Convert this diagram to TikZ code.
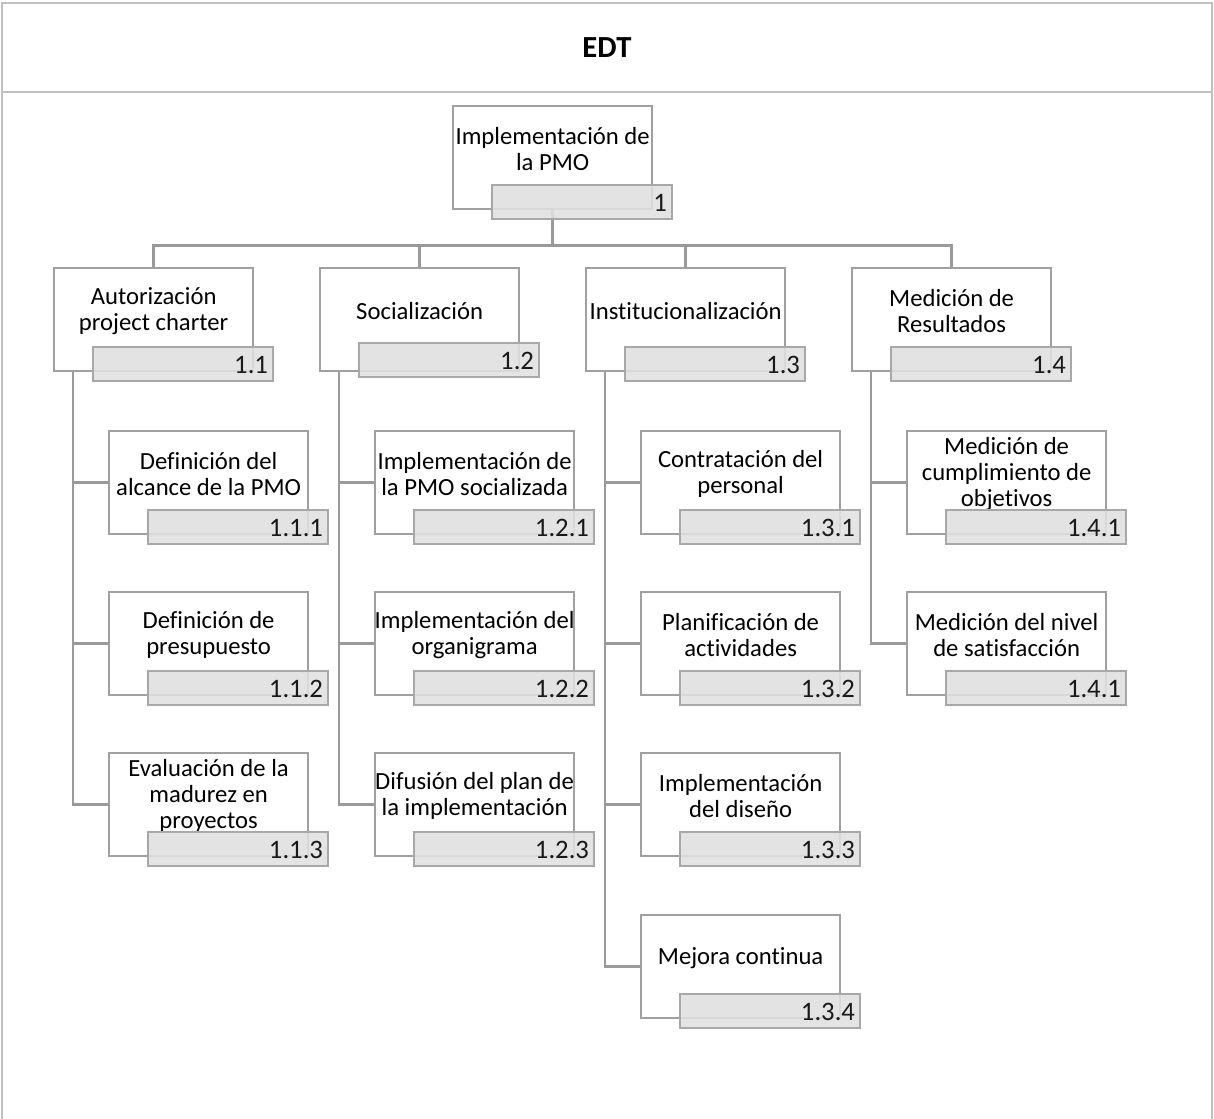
\documentclass[tikz,border=0pt]{standalone}
\usepackage{fontspec}
\setmainfont{Carlito}[Ligatures={NoCommon}]
\usetikzlibrary{calc}
\pgfdeclarelayer{bg}
\pgfsetlayers{bg,main}

\definecolor{framegray}{HTML}{C0C0C0}
\definecolor{boxline}{HTML}{A0A0A0}
\definecolor{linkgray}{HTML}{9A9A9A}
\definecolor{codefill}{HTML}{E0E0E0}
\definecolor{codeline}{HTML}{A8A8A8}

\tikzset{
  mainbox/.style={draw=boxline, line width=1.7pt, fill=white, rectangle,
    anchor=north west, minimum width=149.25pt, minimum height=77.25pt, inner sep=0pt},
  labeltext/.style={font=\fontsize{18.5}{19.5}\selectfont, align=center,
    inner sep=0pt, text=black},
  codebox/.style={draw=codeline, line width=1.7pt, fill=codefill, fill opacity=0.88,
    draw opacity=1, rectangle, anchor=north west, minimum width=135pt,
    minimum height=25.5pt, inner sep=0pt},
  codetext/.style={font=\fontsize{20}{22}\selectfont, anchor=east,
    inner sep=0pt, text=black!90},
  link/.style={draw=linkgray, line width=1.9pt},
  frameline/.style={draw=framegray, line width=1.5pt},
}

% one WBS element: [code offset]{name}{x}{y}{label}{code}
\newcommand{\wbsitem}[6][79]{%
  \node[mainbox] (#2) at (#3,#4) {};
  \node[labeltext] (#2-t) at ($(#2.north)+(0,44)$) {#5};
  \node[codebox] (#2-c) at ($(#2.north west)+(39,#1)$) {};
  \node[codetext] (#2-n) at ($(#2-c.east)+(-6,1)$) {#6};
}

\begin{document}
\begin{tikzpicture}[x=0.75pt,y=-0.75pt]
\useasboundingbox (0,0) rectangle (1214,1119);

% outer frame and title band
\draw[frameline] (2,1119) -- (2,3) -- (1212,3) -- (1212,1119);
\draw[frameline] (2,92) -- (1212,92);
\node[font=\bfseries\fontsize{23}{25}\selectfont] (title) at (607,48) {EDT};

% root
\wbsitem{root}{452}{105}{Implementación de\\la PMO}{1}

% level 1
\wbsitem{c1}{53}{267}{Autorización\\project charter}{1.1}
\wbsitem[75]{c2}{319}{267}{Socialización}{1.2}
\wbsitem{c3}{585}{267}{Institucionalización}{1.3}
\wbsitem{c4}{851}{267}{Medición de\\Resultados}{1.4}

% level 2
\wbsitem{c11}{108}{430}{Definición del\\alcance de la PMO}{1.1.1}
\wbsitem{c12}{108}{591}{Definición de\\presupuesto}{1.1.2}
\wbsitem{c13}{108}{752}{Evaluación de la\\madurez en\\proyectos}{1.1.3}

\wbsitem{c21}{374}{430}{Implementación de\\la PMO socializada}{1.2.1}
\wbsitem{c22}{374}{591}{Implementación del\\organigrama}{1.2.2}
\wbsitem{c23}{374}{752}{Difusión del plan de\\la implementación}{1.2.3}

\wbsitem{c31}{640}{430}{Contratación del\\personal}{1.3.1}
\wbsitem{c32}{640}{591}{Planificación de\\actividades}{1.3.2}
\wbsitem{c33}{640}{752}{Implementación\\del diseño}{1.3.3}
\wbsitem{c34}{640}{914}{Mejora continua}{1.3.4}

\wbsitem{c41}{906}{430}{Medición de\\cumplimiento de\\objetivos}{1.4.1}
\wbsitem{c42}{906}{591}{Medición del nivel\\de satisfacción}{1.4.1}

% connectors
\begin{pgfonlayer}{bg}
  \foreach \k in {c1,c2,c3,c4}
    \draw[link] (root.south) -- ++(0,35) -| (\k.north);
  \foreach \p/\k in {c1/c11,c1/c12,c1/c13,
                     c2/c21,c2/c22,c2/c23,
                     c3/c31,c3/c32,c3/c33,c3/c34,
                     c4/c41,c4/c42}
    \draw[link] ($(\p.south west)+(20,0)$) |- (\k.west);
\end{pgfonlayer}
\end{tikzpicture}
\end{document}
